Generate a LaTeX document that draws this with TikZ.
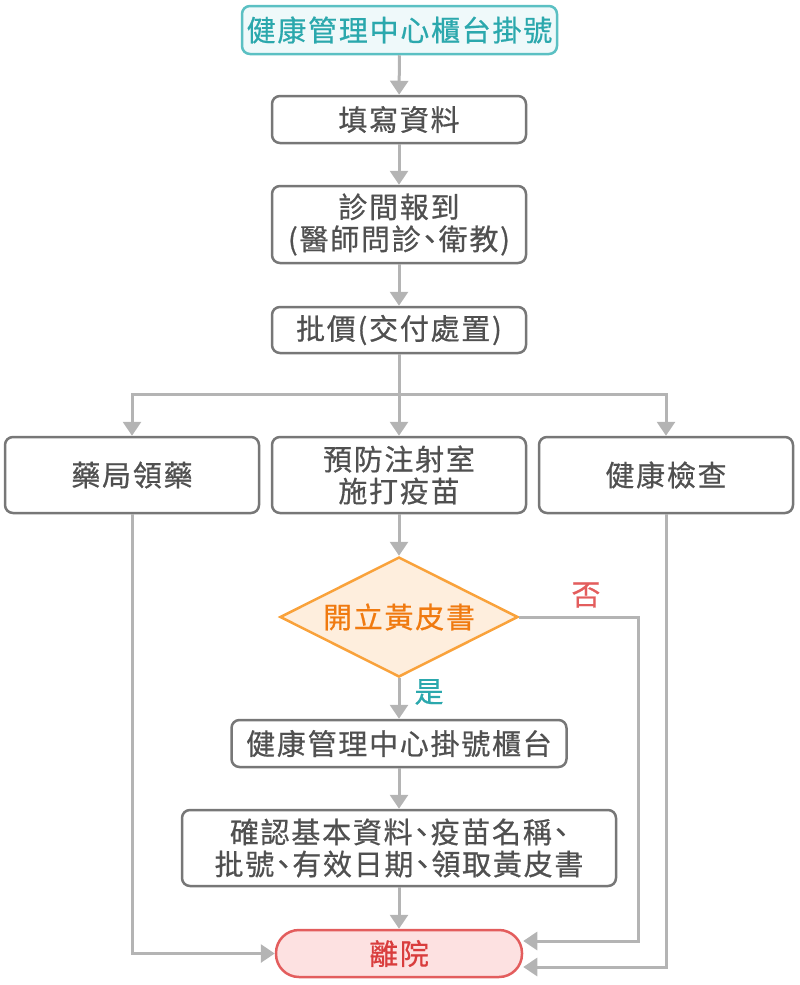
\documentclass[tikz,border=0pt]{standalone}
\usepackage{fontspec}
\setmainfont{Noto Sans CJK TC}[RawFeature=+halt, LetterSpace=6, FakeBold=0.6]
\usetikzlibrary{arrows.meta,shapes.geometric,calc}
\definecolor{gtext}{HTML}{505050}
\definecolor{gborder}{HTML}{777777}
\definecolor{conn}{HTML}{B4B4B4}
\definecolor{tealb}{HTML}{5BC0C3}
\definecolor{tealf}{HTML}{EFF9FA}
\definecolor{tealt}{HTML}{2BA8AD}
\definecolor{orab}{HTML}{F9A23B}
\definecolor{oraf}{HTML}{FEEEDD}
\definecolor{orat}{HTML}{F07A10}
\definecolor{redb}{HTML}{E35D5D}
\definecolor{redf}{HTML}{FDE1E1}
\definecolor{redt}{HTML}{D93D3D}
\tikzset{
  box/.style={draw=gborder, line width=2.5pt, rounded corners=8pt, fill=white,
    text=gtext, align=center, inner sep=0pt,
    font=\fontsize{29pt}{32pt}\selectfont},
  startbox/.style={box, draw=tealb, fill=tealf, text=tealt},
  endbox/.style={box, draw=redb, fill=redf, text=redt, rounded corners=23pt},
  decide/.style={diamond, draw=orab, fill=oraf, text=orat, line width=2.5pt,
    inner sep=0pt, shape aspect=2, minimum width=238pt, minimum height=120pt,
    font=\fontsize{29pt}{32pt}\selectfont},
  arr/.style={draw=conn, line width=3pt, -{Triangle[width=18pt,length=14pt]}},
  lbl/.style={font=\fontsize{29pt}{32pt}\selectfont, inner sep=0pt}
}
\begin{document}
\begin{tikzpicture}[x=1pt,y=-1pt]
\useasboundingbox (0,0) rectangle (800,985);
\node[startbox, minimum width=315pt, minimum height=48pt] (start) at (399.5,30) {健康管理中心櫃台掛號};
\node[box, minimum width=254pt, minimum height=47pt] (fill) at (399,119.5) {填寫資料};
\node[box, minimum width=254pt, minimum height=77pt] (clinic) at (399,224.5) {診間報到\\(醫師問診、衛教)};
\node[box, minimum width=254pt, minimum height=46pt] (pay) at (399,330) {批價(交付處置)};
\node[box, minimum width=254pt, minimum height=76pt] (pharm) at (132,475) {藥局領藥};
\node[box, minimum width=254pt, minimum height=76pt] (vacc) at (399,475) {預防注射室\\施打疫苗};
\node[box, minimum width=254pt, minimum height=76pt] (check) at (666,475) {健康檢查};
\node[decide] (dia) at (399,617) {開立黃皮書};
\node[box, minimum width=335pt, minimum height=47pt] (desk) at (399,743.5) {健康管理中心掛號櫃台};
\node[box, minimum width=434pt, minimum height=76pt] (conf) at (399,848) {確認基本資料、疫苗名稱、\\批號、有效日期、領取黃皮書};
\node[endbox, minimum width=246pt, minimum height=47pt] (exit) at (399,953.5) {離院};
\node[lbl, text=redb] (no) at (586,595) {否};
\node[lbl, text=tealt] (yes) at (429,692) {是};

\coordinate (br) at (399,394);
\coordinate (r1) at ($(exit.east)+(0,-12.5)$);
\coordinate (r2) at ($(exit.east)+(0,13.5)$);
\draw[arr] (start) -- (fill);
\draw[arr] (fill) -- (clinic);
\draw[arr] (clinic) -- (pay);
\draw[arr] (pay.south) -- (vacc.north);
\draw[arr] (br) -| (pharm.north);
\draw[arr] (br) -| (check.north);
\draw[arr] (vacc.south) -- (dia.north);
\draw[arr] (dia.south) -- (desk.north);
\draw[arr] (desk) -- (conf);
\draw[arr] (conf) -- (exit);
\draw[arr] (pharm.south) |- (exit.west);
\draw[arr] (dia.east) -- (dia.east -| 638,0) -- (638,0 |- r1) -- (r1);
\draw[arr] (check.south) |- (r2);
\end{tikzpicture}
\end{document}
